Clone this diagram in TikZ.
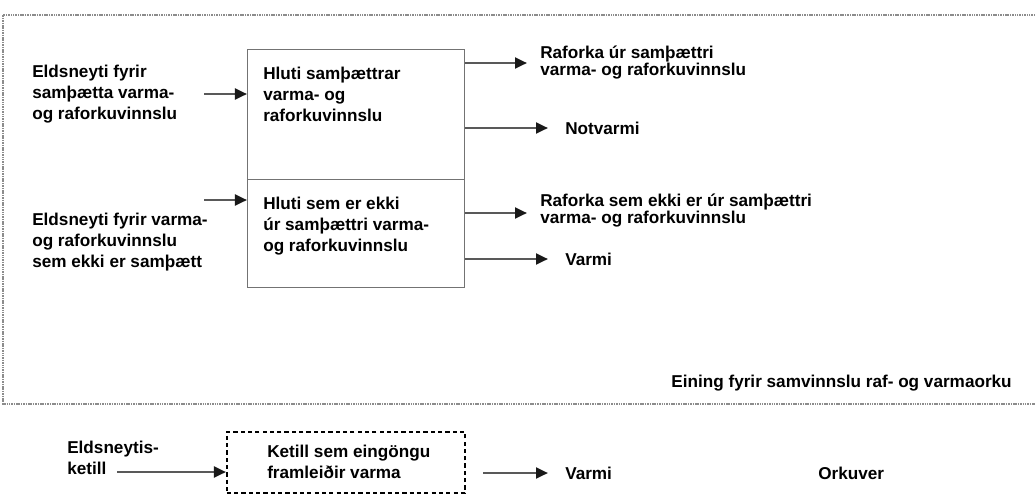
\documentclass[tikz,border=0pt]{standalone}
\usepackage{fontspec}
\setmainfont{Liberation Sans}
\usetikzlibrary{arrows.meta}

\begin{document}
\begin{tikzpicture}[
    x=0.025cm,y=-0.025cm,
    txt/.style={anchor=west,align=left,inner sep=0pt,font=\bfseries\fontsize{12.2}{14.9}\selectfont},
    outtxt/.style={txt,font=\bfseries\fontsize{12.2}{12.1}\selectfont},
    part/.style={draw=black!55,line width=0.9pt,anchor=north west,inner sep=0pt,minimum width=5.425cm},
    boilerbox/.style={draw=black,line width=1.2pt,dash pattern=on 3pt off 2.2pt,anchor=north west,inner sep=0pt,minimum width=5.95cm,minimum height=1.525cm},
    frame/.style={draw=black!45,line width=1.4pt,dash pattern=on 1.1pt off 0.6pt},
    arrow/.style={-{Triangle[length=0.3cm,width=0.27cm,color=black!90]},line width=1.8pt,black!65},
  ]
  \useasboundingbox (0,0) rectangle (1035,495);

  % unit for combined heat and power
  \draw[frame] (1040,15) -| (3,404) -- (1040,404);
  \node[part,minimum height=3.25cm] (chp) at (247,49) {};
  \node[part,minimum height=2.7cm] (sep) at (247,179) {};
  \node[txt] (chptxt) at (263,94) {Hluti samþættrar\\varma- og\\raforkuvinnslu};
  \node[txt] (septxt) at (263,226) {Hluti sem er ekki\\úr samþættri varma-\\og raforkuvinnslu};
  \node[txt] (fuelchp) at (32,94) {Eldsneyti fyrir\\samþætta varma-\\og raforkuvinnslu};
  \node[txt] (fuelsep) at (32,242) {Eldsneyti fyrir varma-\\og raforkuvinnslu\\sem ekki er samþætt};
  \node[outtxt] (elchp) at (540,63) {Raforka úr samþættri\\varma- og raforkuvinnslu};
  \node[txt] (heatchp) at (565,128) {Notvarmi};
  \node[outtxt] (elsep) at (540,211) {Raforka sem ekki er úr samþættri\\varma- og raforkuvinnslu};
  \node[txt] (heatsep) at (565,259) {Varmi};
  \node[txt,anchor=east] (unit) at (1012,383) {Eining fyrir samvinnslu raf- og varmaorku};

  % boiler
  \node[boilerbox] (boiler) at (226,431) {};
  \node[txt] (boilertxt) at (267,462) {Ketill sem eingöngu\\framleiðir varma};
  \node[txt] (fuelboiler) at (67,458) {Eldsneytis-\\ketill};
  \node[txt] (heatboiler) at (565,473) {Varmi};
  \node[txt] (plant) at (818,473) {Orkuver};

  \coordinate (in1) at (204,94);
  \coordinate (in2) at (204,200);
  \coordinate (in3) at (117,472);
  \coordinate (out1) at (527,63);
  \coordinate (out2) at (548,128);
  \coordinate (out3) at (527,213);
  \coordinate (out4) at (548,259);
  \coordinate (out5s) at (483,473);
  \coordinate (out5) at (548,473);

  \draw[arrow] (in1) -- (in1 -| chp.west);
  \draw[arrow] (in2) -- (in2 -| sep.west);
  \draw[arrow] (out1 -| chp.east) -- (out1);
  \draw[arrow] (out2 -| chp.east) -- (out2);
  \draw[arrow] (out3 -| sep.east) -- (out3);
  \draw[arrow] (out4 -| sep.east) -- (out4);
  \draw[arrow] (in3) -- (in3 -| boiler.west);
  \draw[arrow] (out5s) -- (out5);
\end{tikzpicture}
\end{document}
